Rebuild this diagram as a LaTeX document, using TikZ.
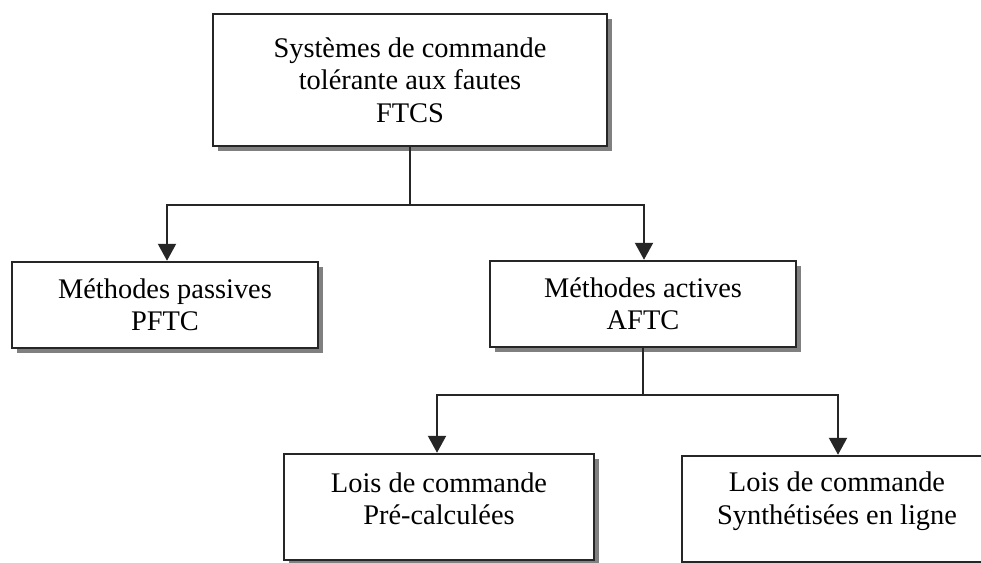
\documentclass[tikz,border=0pt]{standalone}
\usepackage{fontspec}
\setmainfont{Liberation Serif}
\usetikzlibrary{shadows,arrows.meta}

\begin{document}
\begin{tikzpicture}[x=1pt,y=-1pt,
  every node/.style={font=\fontsize{28.4}{32.5}\selectfont, align=center},
  box/.style={draw=black!85, line width=2.5pt, fill=white, rectangle, inner sep=0pt,
    drop shadow={shadow xshift=4.5pt, shadow yshift=-4.5pt, fill=black!55, opacity=0.9}},
  lbl/.style={inner sep=0pt},
  link/.style={draw=black!85, line width=2.2pt},
  arr/.style={link, -{Triangle[width=18pt,length=17pt]}}]

  \useasboundingbox[fill=white] (0,0) rectangle (981,562);

  % boxes
  \node[box, minimum width=394pt, minimum height=132pt] (ftcs) at (410,80)
    {Systèmes de commande\\tolérante aux fautes\\FTCS};
  \node[box, minimum width=306pt, minimum height=86pt] (pftc) at (165,305)
    {Méthodes passives\\PFTC};
  \node[box, minimum width=306pt, minimum height=86pt] (aftc) at (643,304)
    {Méthodes actives\\AFTC};
  \node[box, minimum width=310pt, minimum height=106pt] (pre) at (439,507) {};
  \node[lbl] (pretext) at (439,499) {Lois de commande\\Pré-calculées};
  \node[box, minimum width=310pt, minimum height=106pt] (syn) at (837,509) {};
  \node[lbl] (syntext) at (837,501) {Lois de commande\\Synthétisées en ligne};

  % connectors
  \draw[link] (ftcs.south) -- ++(0,58) coordinate (j1);
  \draw[arr] (j1) -| ([xshift=2pt]pftc.north);
  \draw[arr] (j1) -| ([xshift=1pt]aftc.north);
  \draw[link] (aftc.south) -- ++(0,47) coordinate (j2);
  \draw[arr] (j2) -| ([xshift=-2pt]pre.north);
  \draw[arr] (j2) -| ([xshift=1pt]syn.north);
\end{tikzpicture}
\end{document}
